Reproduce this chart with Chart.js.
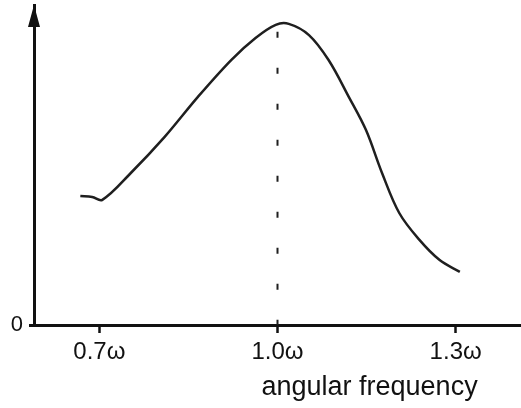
<!DOCTYPE html>
<html>
<head>
<meta charset="utf-8">
<script src="https://cdn.jsdelivr.net/npm/chart.js@4"></script>
<style>
  html, body { margin: 0; padding: 0; background: #fff; }
  #wrap { width: 521px; height: 408px; }
</style>
</head>
<body>
<div id="wrap"><canvas id="c1"></canvas></div>
<script>
// 讀圖估計的資料
const freq = [0.668, 0.688, 0.705, 0.753, 0.810, 0.866, 0.922, 0.963, 0.997, 1.019, 1.053, 1.086, 1.120, 1.149, 1.176, 1.205, 1.239, 1.273, 1.307];
const amp = [40.3, 40.0, 39.1, 47.5, 58.8, 71.3, 82.8, 89.7, 93.8, 94.1, 90.6, 82.8, 71.3, 60.9, 47.5, 35.0, 26.6, 20.3, 16.6];
const xTicks = [0.7, 1.0, 1.3];
const yTicks = [0];
const peakFreq = 1.0;
const peakAmp = 93.5;
const xTitle = "angular frequency";

const curve = freq.map((f, i) => ({ x: f, y: amp[i] }));
// 虛線從峰值往下畫
const dashed = [{ x: peakFreq, y: peakAmp }, { x: peakFreq, y: 0 }];

/* 軸的箭頭和標題 */
const axisExtras = {
  id: "axisExtras",
  afterDraw(chart) {
    const ctx = chart.ctx;
    const ca = chart.chartArea;
    ctx.save();
    ctx.fillStyle = "#111";
    ctx.beginPath();
    ctx.moveTo(ca.left, ca.top);
    ctx.lineTo(ca.left - 6, ca.top + 22);
    ctx.lineTo(ca.left + 6, ca.top + 22);
    ctx.closePath();
    ctx.fill();

    ctx.font = "27px 'Liberation Sans', Arial, sans-serif";
    ctx.textAlign = "center";
    ctx.textBaseline = "middle";
    ctx.fillText(xTitle, chart.scales.x.getPixelForValue(1.155), 388);
    ctx.restore();
  }
};

const c1 = document.getElementById("c1");
const myChart = new Chart(c1, {
  type: "line",
  data: {
    datasets: [
      {
        data: curve,
        borderColor: "#1f1f1f",
        borderWidth: 2.5,
        pointRadius: 0,
        tension: 0.35,
        fill: false
      },
      {
        data: dashed,
        borderColor: "#1f1f1f",
        borderWidth: 2,
        borderDash: [6, 30],
        borderDashOffset: -6,
        pointRadius: 0,
        fill: false
      }
    ]
  },
  options: {
    responsive: true,
    maintainAspectRatio: false,
    animation: false,
    layout: { padding: { top: 5, right: 0, left: 0, bottom: 0 } },
    plugins: {
      legend: { display: false },
      tooltip: { enabled: false }
    },
    scales: {
      x: {
        type: "linear",
        min: 0.59,
        max: 1.41,
        afterBuildTicks: (scale) => { scale.ticks = xTicks.map(v => ({ value: v })); },
        afterFit: (scale) => {
          scale.height = 83;
          scale.paddingLeft = 0;
          scale.paddingRight = 0;
        },
        grid: {
          drawOnChartArea: false,
          drawTicks: true,
          tickLength: 8,
          tickWidth: 2.5,
          tickColor: "#111"
        },
        border: { display: true, color: "#111", width: 3 },
        ticks: {
          color: "#111",
          padding: 5,
          maxRotation: 0,
          font: { family: "'Liberation Sans', Arial, sans-serif", size: 24 },
          callback: (v) => v.toFixed(1) + "ω"
        }
      },
      y: {
        type: "linear",
        min: 0,
        max: 100,
        afterBuildTicks: (scale) => { scale.ticks = yTicks.map(v => ({ value: v })); },
        afterFit: (scale) => {
          scale.width = 34;
          scale.paddingTop = 0;
          scale.paddingBottom = 0;
        },
        grid: {
          drawOnChartArea: false,
          drawTicks: true,
          tickLength: 5,
          tickWidth: 3,
          tickColor: "#111"
        },
        border: { display: true, color: "#111", width: 3 },
        ticks: {
          color: "#111",
          padding: 6,
          font: { family: "'Liberation Sans', Arial, sans-serif", size: 22 },
          callback: (v) => String(v)
        }
      }
    }
  },
  plugins: [axisExtras]
});
</script>
</body>
</html>
